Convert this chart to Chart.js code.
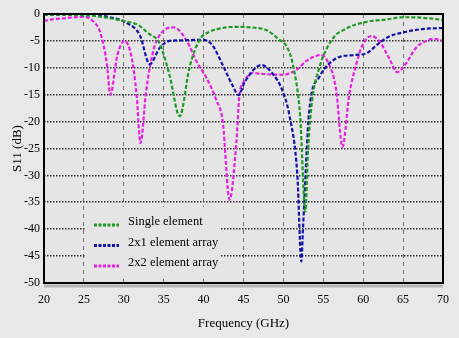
<!DOCTYPE html>
<html>
<head>
<meta charset="utf-8">
<script src="https://cdn.jsdelivr.net/npm/chart.js@4/dist/chart.umd.min.js"></script>
<style>
  html, body { margin: 0; padding: 0; background: #e8e8e8; }
  #wrap { width: 459px; height: 338px; position: relative; }
</style>
</head>
<body>
<div id="wrap"><canvas id="s11-chart"></canvas></div>
<script>
// frequency (GHz) / return loss (dB) samples for each antenna
const singleFreq = [20, 25, 27, 30, 31.75, 33, 34.5, 35.75, 37, 38.25, 39.5, 40.75, 42.4, 44.1, 46, 47.9, 49.5, 50.4, 51.2, 52.1, 52.75, 53.1, 53.6, 54.5, 55.4, 56.5, 57.5, 59, 61, 63, 65, 67.5, 70];
const singleS11 = [-0.1, -0.2, -0.5, -1.3, -2, -3.5, -5.5, -11.5, -19, -9.8, -4.8, -3.3, -2.6, -2.4, -2.5, -3, -4.8, -6, -9.5, -19, -36.7, -25, -16, -10, -6.5, -4, -3, -2, -1.3, -1, -0.6, -0.7, -1.1];

const arr2x1Freq = [20, 25, 27.9, 30.4, 32, 33.25, 34.5, 35.75, 37, 39.9, 41.1, 42.4, 43.6, 44.4, 45.1, 47.25, 48.6, 49.9, 50.75, 51.75, 52.25, 52.45, 53.25, 54.5, 55.75, 57, 59.1, 60.4, 62, 63.25, 65.4, 67.4, 70];
const arr2x1S11 = [-0.1, -0.2, -0.5, -1.7, -3.9, -9.3, -6.3, -5, -4.9, -4.8, -5.8, -9.5, -13.2, -15.1, -12.8, -9.5, -11, -14.3, -18.8, -30, -46, -40, -17.8, -11.7, -9.2, -8, -7.6, -7.3, -5.4, -4.2, -3.3, -2.8, -2.6];

const arr2x2Freq = [20, 21, 22.5, 25, 26.4, 27, 27.9, 28.3, 29.2, 30.1, 31, 31.6, 32.1, 32.75, 33.25, 33.9, 34.9, 36.25, 37.9, 39.1, 40.4, 41.6, 42.4, 43.25, 44.1, 44.5, 45.1, 46.1, 48, 49.9, 51.6, 52.9, 54.1, 54.75, 55.5, 56.6, 57.4, 58.25, 59.1, 59.9, 61, 62, 63.25, 64.25, 65.4, 66.6, 67.9, 68.9, 70];
const arr2x2S11 = [-1.3, -1, -0.8, -0.5, -1.7, -3.2, -9.5, -15, -7.6, -5, -8.2, -15, -24, -15, -10, -5.8, -3.2, -2.5, -5, -8.8, -12, -16, -20, -34.5, -24, -15, -12.5, -11, -11.2, -11.3, -10.4, -8.7, -7.8, -7.6, -8.7, -14, -24.7, -15, -9.5, -5.8, -4.1, -5, -8.2, -10.8, -9.1, -6.3, -5, -4.6, -5];

const seriesNames = ['Single element', '2x1 element array', '2x2 element array'];
const seriesColors = ['#1f9a24', '#1414a8', '#e622e0'];

const xTicks = [20, 25, 30, 35, 40, 45, 50, 55, 60, 65, 70];
const yTicks = [0, -5, -10, -15, -20, -25, -30, -35, -40, -45, -50];

const BG = '#e8e8e8';
const serif = 'Liberation Serif, Times New Roman, serif';

const toPoints = (xs, ys) => xs.map((x, i) => ({ x: x, y: ys[i] }));

const makeSet = (idx, xs, ys) => ({
    label: seriesNames[idx],
    data: toPoints(xs, ys),
    borderColor: seriesColors[idx],
    borderWidth: 2.2,
    borderDash: [4, 2],
    pointRadius: 0,
    fill: false,
    cubicInterpolationMode: 'monotone'
});

// black frame round the plot plus a soft shadow below the x axis
const framePlugin = {
    id: 'frame',
    beforeDraw(chart) {
        const { ctx, chartArea: a } = chart;
        ctx.save();
        ctx.fillStyle = '#e5e5e5';
        ctx.fillRect(a.left, a.top, a.right - a.left, a.bottom - a.top);
        ctx.restore();
    },
    afterDatasetsDraw(chart) {
        const { ctx, chartArea: a } = chart;
        ctx.save();
        ctx.strokeStyle = '#b4b4b4';
        ctx.lineWidth = 3;
        ctx.beginPath();
        ctx.moveTo(a.left, a.bottom + 3);
        ctx.lineTo(a.right, a.bottom + 3);
        ctx.stroke();
        ctx.strokeStyle = '#000';
        ctx.lineWidth = 2;
        ctx.strokeRect(a.left, a.top, a.right - a.left, a.bottom - a.top);
        ctx.restore();
    }
};

// legend box sitting inside the plot, lower left
const legendPlugin = {
    id: 'innerLegend',
    afterDraw(chart) {
        const { ctx, chartArea: a } = chart;
        const bx = a.left + 42, by = a.top + 193;
        ctx.save();
        ctx.fillStyle = '#e5e5e5';
        ctx.fillRect(bx, by, 134, 72);
        ctx.font = '12.5px ' + serif;
        ctx.textBaseline = 'middle';
        chart.data.datasets.forEach((ds, i) => {
            const y = by + 15 + i * 20.5;
            ctx.strokeStyle = ds.borderColor;
            ctx.lineWidth = 3;
            ctx.setLineDash([3, 1.5]);
            ctx.beginPath();
            ctx.moveTo(bx + 8, y + 3);
            ctx.lineTo(bx + 33, y + 3);
            ctx.stroke();
            ctx.setLineDash([]);
            ctx.fillStyle = '#000';
            ctx.fillText(ds.label, bx + 42, y);
        });
        ctx.restore();
    }
};

const ctx = document.getElementById('s11-chart').getContext('2d');
const s11Chart = new Chart(ctx, {
    type: 'line',
    data: {
        datasets: [
            makeSet(0, singleFreq, singleS11),
            makeSet(1, arr2x1Freq, arr2x1S11),
            makeSet(2, arr2x2Freq, arr2x2S11)
        ]
    },
    options: {
        responsive: true,
        maintainAspectRatio: false,
        animation: false,
        events: [],
        layout: { padding: { left: 0, top: 14, right: 15, bottom: 0 } },
        plugins: {
            legend: { display: false },
            tooltip: { enabled: false }
        },
        scales: {
            x: {
                type: 'linear',
                min: 20,
                max: 70,
                afterBuildTicks: (scale) => { scale.ticks = xTicks.map(v => ({ value: v })); },
                afterFit: (scale) => { scale.height = 55; },
                ticks: {
                    color: '#000',
                    padding: 10,
                    font: { family: serif, size: 12 },
                    maxRotation: 0
                },
                grid: {
                    color: '#6a6a6a',
                    lineWidth: 1,
                    drawTicks: false
                },
                border: { display: false, dash: [4, 4] },
                title: {
                    display: true,
                    text: 'Frequency (GHz)',
                    color: '#000',
                    font: { family: serif, size: 13 },
                    padding: { top: 0, bottom: 7 }
                }
            },
            y: {
                type: 'linear',
                min: -50,
                max: 0,
                afterBuildTicks: (scale) => { scale.ticks = yTicks.map(v => ({ value: v })); },
                afterFit: (scale) => { scale.width = 44; },
                ticks: {
                    color: '#000',
                    padding: 4,
                    font: { family: serif, size: 12 }
                },
                grid: {
                    color: '#333',
                    lineWidth: 1.6,
                    drawTicks: false
                },
                border: { display: false, dash: [1.5, 1.5] },
                title: {
                    display: true,
                    text: 'S11 (dB)',
                    color: '#000',
                    font: { family: serif, size: 13 },
                    padding: { top: 10, bottom: 0 }
                }
            }
        }
    },
    plugins: [framePlugin, legendPlugin]
});
</script>
</body>
</html>
